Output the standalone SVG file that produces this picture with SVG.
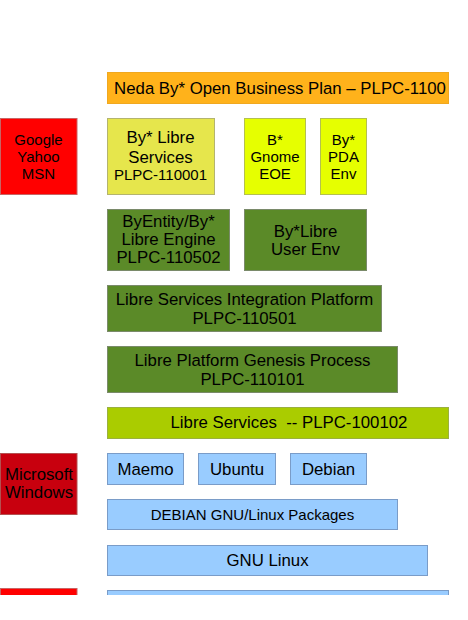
<svg xmlns="http://www.w3.org/2000/svg" width="468" height="620" viewBox="0 0 468 620">
<defs>
<style>
text{font-family:"Liberation Sans",Arial,sans-serif;fill:#000;text-anchor:middle;font-size:16.8px}
.s15{font-size:15px}
.orange{fill:#ffb21b;stroke:#f0a820;stroke-width:1}
.red{fill:#ff0000;stroke:#c86464;stroke-width:1}
.dred{fill:#c8000e;stroke:#b45050;stroke-width:1}
.lyel{fill:#e6e64c;stroke:#b4b46e;stroke-width:1}
.byel{fill:#e6ff00;stroke:#b4c050;stroke-width:1}
.green{fill:#5b8a28;stroke:#7a8a6a;stroke-width:1}
.lime{fill:#aacc00;stroke:#9ab040;stroke-width:1}
.blue{fill:#99ccff;stroke:#7a9cc8;stroke-width:1}
</style>
<clipPath id="clip"><rect x="0" y="0" width="468" height="595"/></clipPath>
</defs>
<rect x="0" y="0" width="468" height="620" fill="#fff"/>
<g clip-path="url(#clip)">
<g id="business-plan">
<rect class="orange" x="107.5" y="72.5" width="341" height="31"/>
<text x="280" y="93.5">Neda By* Open Business Plan – PLPC-1100</text>
</g>
<g id="google">
<rect class="red" x="0.5" y="118.5" width="76.5" height="76"/>
<text class="s15" x="38.5" y="145">Google</text>
<text class="s15" x="38.5" y="161.7">Yahoo</text>
<text class="s15" x="38.5" y="179">MSN</text>
</g>
<g id="libre-services-110001">
<rect class="lyel" x="107.5" y="118.5" width="107" height="76"/>
<text x="160.5" y="143.3">By* Libre</text>
<text x="160.5" y="162.5">Services</text>
<text class="s15" x="160.5" y="180">PLPC-110001</text>
</g>
<g id="gnome-eoe">
<rect class="byel" x="244.5" y="118.5" width="61" height="76"/>
<text class="s15" x="275" y="145">B*</text>
<text class="s15" x="275" y="161.7">Gnome</text>
<text class="s15" x="275" y="179">EOE</text>
</g>
<g id="pda-env">
<rect class="byel" x="320.5" y="118.5" width="46" height="76"/>
<text class="s15" x="343.5" y="145">By*</text>
<text class="s15" x="343.5" y="161.7">PDA</text>
<text class="s15" x="343.5" y="179">Env</text>
</g>
<g id="libre-engine">
<rect class="green" x="107.5" y="209.5" width="122" height="61"/>
<text x="168.5" y="226.7">ByEntity/By*</text>
<text x="168.5" y="245">Libre Engine</text>
<text x="168.5" y="263.3">PLPC-110502</text>
</g>
<g id="user-env">
<rect class="green" x="244.5" y="209.5" width="122" height="61"/>
<text x="305.5" y="236.7">By*Libre</text>
<text x="305.5" y="255">User Env</text>
</g>
<g id="integration-platform">
<rect class="green" x="107.5" y="285.5" width="274" height="46"/>
<text x="244.5" y="305">Libre Services Integration Platform</text>
<text x="244.5" y="324">PLPC-110501</text>
</g>
<g id="genesis-process">
<rect class="green" x="107.5" y="346.5" width="290" height="46"/>
<text x="252.5" y="366">Libre Platform Genesis Process</text>
<text x="252.5" y="385">PLPC-110101</text>
</g>
<g id="libre-services-100102">
<rect class="lime" x="107.5" y="407.5" width="341" height="31"/>
<text x="289" y="428.3" xml:space="preserve">Libre Services  -- PLPC-100102</text>
</g>
<g id="windows">
<rect class="dred" x="0.5" y="453.5" width="76.5" height="61"/>
<text x="39" y="480">Microsoft</text>
<text x="39" y="498.3">Windows</text>
</g>
<g id="maemo">
<rect class="blue" x="107.5" y="453.5" width="76" height="31"/>
<text x="145.5" y="475">Maemo</text>
</g>
<g id="ubuntu">
<rect class="blue" x="198.5" y="453.5" width="77" height="31"/>
<text x="237" y="475">Ubuntu</text>
</g>
<g id="debian">
<rect class="blue" x="290.5" y="453.5" width="76" height="31"/>
<text x="328.5" y="475">Debian</text>
</g>
<g id="debian-packages">
<rect class="blue" x="107.5" y="499.5" width="290" height="30"/>
<text class="s15" x="252.5" y="520">DEBIAN GNU/Linux Packages</text>
</g>
<g id="gnu-linux">
<rect class="blue" x="107.5" y="545.5" width="320" height="30"/>
<text x="267.5" y="566">GNU Linux</text>
</g>
<g id="bottom-red">
<rect class="red" x="0.5" y="588.5" width="76.5" height="30"/>
</g>
<g id="bottom-blue">
<rect class="blue" x="107.5" y="590.5" width="341" height="30"/>
</g>
</g>
<g id="connectors"></g>
</svg>
